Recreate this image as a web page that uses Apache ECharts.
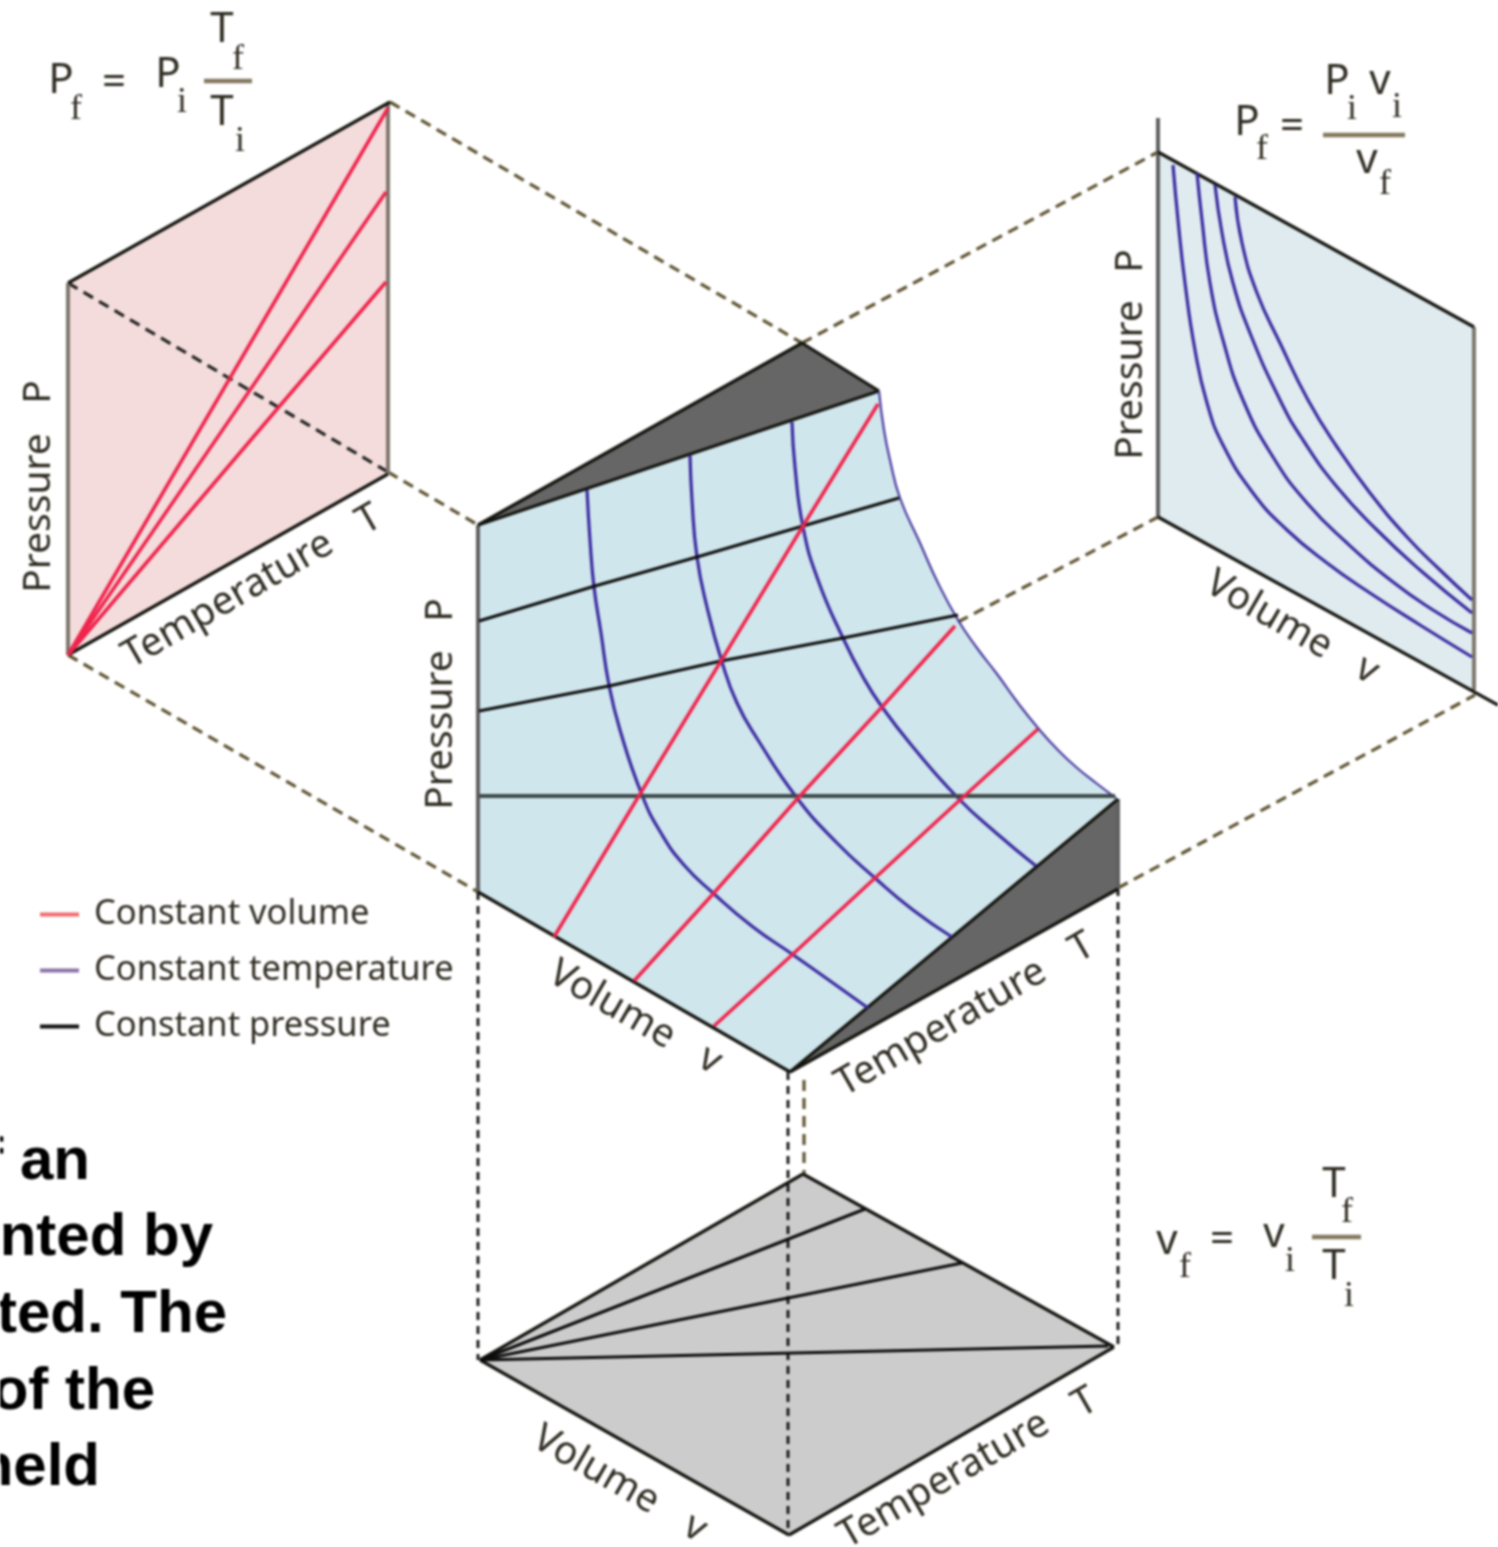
<!DOCTYPE html>
<html><head><meta charset="utf-8">
<style>html,body{margin:0;padding:0;background:#fff}#c{width:1498px;height:1547px;filter:blur(0.9px)}</style>
<script src="https://cdn.jsdelivr.net/npm/echarts@6/dist/echarts.min.js"></script>
</head><body><div id="c"></div>
<script>
// Diagram points, in the hidden axes' units
const leftPanel=[[68,283],[390,102],[388,474],[68,655]];
const rightPanel=[[1158,152],[1474,327],[1474,690],[1158,517]];
const floorPanel=[[480,1360],[803,1174],[1114,1347],[789,1535]];
const topWedge=[[802,343],[879,391],[478,525]];
const sideWedge=[[1118,799],[1118,889],[790,1072]];
const surfaceEdge=[[879,391],[884,430],[890,460],[900,498],[920,543],[938,583],[958,620],[977,648],[997,674],[1018,703],[1038,728],[1057,749],[1076,767],[1096,783],[1116,798]];
const surfaceBase=[[790,1072],[478,892],[478,525]];

const volumeLeft=[[[68,655],[230,378],[388,108]],[[68,655],[250,390],[386,192]],[[68,655],[278,408],[386,282]]];
const tempRight=[
 [[1173,165],[1178,220],[1185,283],[1195,350],[1207,403],[1223,445],[1253,493],[1287,530],[1327,563],[1370,593],[1420,625],[1472,657]],
 [[1197,173],[1202,220],[1210,283],[1223,340],[1243,400],[1273,457],[1307,503],[1347,543],[1393,582],[1433,610],[1472,633]],
 [[1215,185],[1222,233],[1233,283],[1250,333],[1280,400],[1303,440],[1337,487],[1377,530],[1420,570],[1472,613]],
 [[1235,197],[1242,243],[1257,293],[1280,343],[1308,400],[1337,447],[1370,493],[1407,537],[1440,570],[1472,600]]];
const volumeSurface=[
 [[878,404],[803,526],[721,661],[640,794],[554,937]],
 [[955,626],[882,707],[799,797],[713,894],[634,981]],
 [[1038,729],[961,799],[875,878],[792,955],[714,1026]]];
const tempSurface=[
 [[587,490],[590,540],[594,587],[601,633],[609,685],[620,730],[642,795],[661,833],[684,865],[713,893],[753,927],[792,954],[833,983],[868,1008]],
 [[690,455],[692,500],[697,557],[707,607],[722,662],[737,703],[758,740],[797,798],[837,843],[875,878],[913,910],[952,937]],
 [[792,422],[795,467],[803,527],[818,580],[843,638],[863,677],[882,707],[913,747],[958,798],[995,832],[1036,866]]];
const pressureSurface=[
 [[479,621],[595,586],[697,557],[803,526],[899,498]],
 [[479,711],[609,686],[721,661],[843,638],[958,615]]];
const pressureBand=[[479,796],[1115,796]];
const pressureFloor=[[[480,1360],[865,1209]],[[480,1360],[962,1263]],[[480,1360],[1108,1346]]];
const guidesOlive=[
 [[390,102],[802,343]],[[388,472],[478,525]],[[68,655],[478,892]],
 [[802,343],[1158,152]],[[958,622],[1158,517]],[[1118,888],[1475,695]],[[804,1080],[804,1175]]];
const guidesDark=[[[68,283],[388,472]]];
const guidesDrop=[[[478,892],[478,1360]],[[788,1072],[788,1535]],[[1118,888],[1118,1345]]];
const edgesDark=[
 [[68,283],[390,102]],[[68,655],[388,474]],
 [[1158,152],[1474,327]],[[1158,517],[1498,705]],
 [[480,1360],[803,1174]],[[803,1174],[1114,1347]],[[1114,1347],[789,1535]],[[789,1535],[480,1360]],
 [[478,525],[802,343]],[[802,343],[879,391]],[[478,525],[879,391]],
 [[478,892],[790,1072]],[[790,1072],[1118,889]],[[790,1072],[1118,799]]];
const edgesGrey=[
 [[68,283],[68,655]],[[388,102],[388,474]],[[1474,327],[1474,690]]];
const edgesSlate=[[[1158,118],[1158,517]],[[478,525],[478,892]],[[1118,799],[1118,889]]];
const fractionBars=[[[204,81],[252,81]],[[1323,135],[1405,135]],[[1312,1237],[1361,1237]]];

const legendNames=['Constant volume','Constant temperature','Constant pressure'];
const axisWords=['Pressure','P','Temperature','T','Pressure','P','Pressure','P','Volume','v','Volume','v','Temperature','T','Volume','v','Temperature','T'];
const formulaMain=['P','=','P','T','T','P','=','P','v','v','v','=','v','T','T'];
const formulaSubs=['f','i','f','i','f','i','i','f','f','i','f','i'];
const captionLines=['of an','nted by','ted. The','of the','held'];

// Placement of the texts above
const axisPlace=[[39,513,-90],[39,392,-90],[228,600,-30],[369,520,-30],[441,730,-90],[441,610,-90],[1131,380,-90],[1131,261,-90],
 [1269,615,30],[1367,670,30],[612,1005,30],[710,1060,30],[941,1028,-30],[1082,948,-30],[596,1470,30],[695,1528,30],[944,1480,-30],[1085,1403,-30]];
const mainPlace=[[61,81],[114,83],[168,75],[222,30],[222,113],[1247,123],[1292,127],[1337,82],[1380,82],[1367,161],[1167,1242],[1222,1240],[1274,1235],[1334,1185],[1334,1267]];
const subPlace=[[76,110],[182,103],[238,60],[240,142],[1262,150],[1352,110],[1397,108],[1385,185],[1185,1268],[1290,1262],[1347,1213],[1349,1297]];
const captionPlace=[[90,1162],[213,1238],[227,1315],[155,1392],[100,1468]];

const INK='#2f2c22';
const polygon=(pts,fill,z)=>({type:'custom',coordinateSystem:'cartesian2d',silent:true,z,data:[pts[0]],
  renderItem:(p,api)=>({type:'polygon',shape:{points:pts.map(q=>api.coord(q))},style:{fill}})});
const stroke=(name,pts,color,width,opt={})=>({type:'line',name,data:pts,showSymbol:false,silent:true,clip:true,z:opt.z||3,
  smooth:opt.smooth||false,lineStyle:{color,width,type:opt.dash||'solid',cap:'butt'}});
const texts=(words,place,font,fill,align)=>({type:'custom',coordinateSystem:'cartesian2d',silent:true,z:6,
  data:place.map(q=>[q[0],q[1]]),clip:false,
  renderItem:(p,api)=>{const q=place[p.dataIndex],c=api.coord([q[0],q[1]]);
    return {type:'text',x:c[0],y:c[1],rotation:-(q[2]||0)*Math.PI/180,
      style:{text:words[p.dataIndex],font,fill,align:align||'center',verticalAlign:'middle'}};}});

const series=[
 polygon(leftPanel,'#f4dcdc',1),polygon(rightPanel,'#dfebef',1),polygon(floorPanel,'#cccccc',1),
 polygon(surfaceEdge.concat(surfaceBase),'#cfe6ec',1),polygon(topWedge,'#666666',1),polygon(sideWedge,'#666666',1),
 ...guidesOlive.map(g=>stroke('',g,'#5f5432',3.2,{dash:[11,7],z:2})),
 ...guidesDark.map(g=>stroke('',g,'#222222',3.2,{dash:[11,7]})),
 ...guidesDrop.map(g=>stroke('',g,'#111111',2.8,{dash:[8,6]})),
 ...edgesGrey.map(g=>stroke('',g,'#7d776c',4)),
 ...edgesSlate.map(g=>stroke('',g,'#5f5f5f',4)),
 ...edgesDark.map(g=>stroke('',g,'#14140f',3.2)),
 ...fractionBars.map(g=>stroke('',g,'#85785f',4.5)),
 stroke('Constant temperature',surfaceEdge,'#4a3aa0',2.2,{smooth:0.5}),
 ...tempRight.map(g=>stroke('Constant temperature',g,'#3a2aa0',3.2,{smooth:0.5})),
 ...tempSurface.map(g=>stroke('Constant temperature',g,'#3a2aa0',3.2,{smooth:0.5})),
 ...pressureSurface.map(g=>stroke('Constant pressure',g,'#0c0c0c',3.2)),
 stroke('Constant pressure',pressureBand,'#3f4a4a',4),
 ...pressureFloor.map(g=>stroke('Constant pressure',g,'#0c0c0c',3.2)),
 ...volumeLeft.map(g=>stroke('Constant volume',g,'#f0244c',3.5)),
 ...volumeSurface.map(g=>stroke('Constant volume',g,'#f0244c',3.5,{z:4})),
 texts(axisWords,axisPlace,'39px "Noto Sans"',INK),
 texts(formulaMain,mainPlace,'42px "Noto Sans"',INK),
 texts(formulaSubs,subPlace,'36px "Liberation Serif"',INK),
 texts(captionLines,captionPlace,'bold 60px "Liberation Sans"','#000000','right')
];

const chart=echarts.init(document.getElementById('c'),null,{renderer:'canvas'});
chart.setOption({
 animation:false,backgroundColor:'#ffffff',
 grid:{left:0,right:0,top:0,bottom:0},
 xAxis:{type:'value',min:0,max:1498,show:false},
 yAxis:{type:'value',min:0,max:1547,inverse:true,show:false},
 tooltip:{show:false},
 legend:{orient:'vertical',left:35,top:892,itemWidth:39,itemHeight:4,itemGap:21,selectedMode:false,
  textStyle:{fontFamily:'"Noto Sans"',fontSize:34.5,color:INK,padding:[0,0,0,10]},
  data:[{name:legendNames[0],icon:'rect',itemStyle:{color:'#f26a6f'}},
        {name:legendNames[1],icon:'rect',itemStyle:{color:'#8c72a8'}},
        {name:legendNames[2],icon:'rect',itemStyle:{color:'#111111'}}]},
 series
});
</script></body></html>
